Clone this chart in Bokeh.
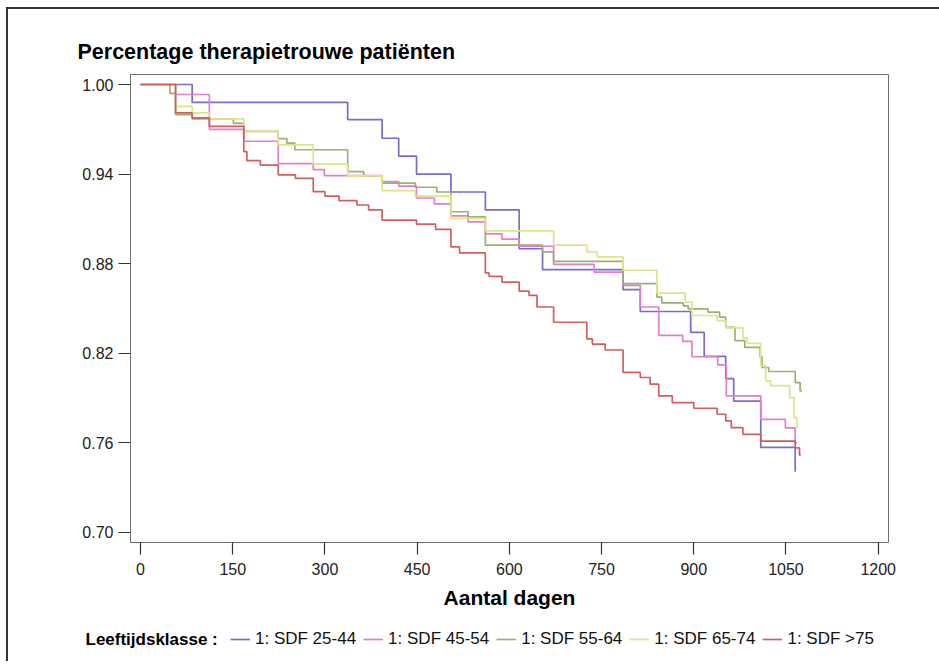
from bokeh.plotting import figure
from bokeh.layouts import column
from bokeh.models import (Range1d, FixedTicker, NumeralTickFormatter, Legend, LegendItem, Label)
from bokeh.embed import file_html
from bokeh.resources import INLINE

# ---------------- data ----------------
title_text = "Percentage therapietrouwe patiënten"
x_label = "Aantal dagen"
legend_title = "Leeftijdsklasse :"
x_ticks = [0, 150, 300, 450, 600, 750, 900, 1050, 1200]
y_ticks = [0.70, 0.76, 0.82, 0.88, 0.94, 1.00]

names = ["1: SDF 25-44", "1: SDF 45-54", "1: SDF 55-64", "1: SDF 65-74", "1: SDF >75"]
colors = ["#7a6cc9", "#e27ed0", "#9fae72", "#e2e288", "#d06060"]

days_25_44 = [0, 84, 337, 393, 420, 449, 505, 561, 616, 654, 785, 813, 895, 917, 952,
              965, 1009, 1065, 1066]
surv_25_44 = [1.0, 0.988, 0.9765, 0.964, 0.952, 0.940, 0.928, 0.916, 0.890, 0.876, 0.8626,
              0.848, 0.834, 0.818, 0.803, 0.788, 0.757, 0.741, 0.741]

days_45_54 = [0, 57, 112, 168, 224, 281, 299, 393, 420, 449, 478, 505, 533, 561, 588, 616,
              672, 738, 785, 813, 843, 882, 897, 939, 953, 1009, 1049, 1065, 1068]
surv_45_54 = [1.0, 0.9933, 0.970, 0.962, 0.947, 0.943, 0.939, 0.935, 0.932, 0.924, 0.920,
              0.912, 0.908, 0.900, 0.8965, 0.8917, 0.8796, 0.8744, 0.8655, 0.851, 0.832,
              0.828, 0.8177, 0.8123, 0.7915, 0.7758, 0.770, 0.760, 0.760]

days_55_64 = [0, 48, 57, 84, 151, 168, 224, 238, 251, 337, 363, 393, 447, 482, 505, 533,
              561, 654, 672, 785, 840, 848, 883, 891, 923, 942, 952, 967, 983, 1008, 1011,
              1022, 1065, 1073, 1076]
surv_55_64 = [1.0, 0.994, 0.9798, 0.977, 0.974, 0.9686, 0.9637, 0.9608, 0.9563, 0.9417,
              0.9388, 0.934, 0.9312, 0.928, 0.9148, 0.9114, 0.8924, 0.8879, 0.8816, 0.8666,
              0.8576, 0.8538, 0.8518, 0.8498, 0.8476, 0.8442, 0.8374, 0.8285, 0.824, 0.8177,
              0.8105, 0.8078, 0.8004, 0.7948, 0.7948]

days_65_74 = [0, 57, 84, 112, 168, 224, 281, 337, 393, 447, 505, 561, 672, 726, 743, 785,
              840, 886, 897, 938, 952, 980, 987, 1009, 1017, 1025, 1056, 1063, 1068, 1070]
surv_65_74 = [1.0, 0.9854, 0.981, 0.977, 0.9686, 0.9596, 0.9467, 0.9388, 0.929, 0.9253,
              0.9103, 0.902, 0.8924, 0.8879, 0.8846, 0.8756, 0.8603, 0.8543, 0.8453, 0.8419,
              0.837, 0.8303, 0.8267, 0.8117, 0.8016, 0.7983, 0.7903, 0.7769, 0.7702, 0.7702]

days_75 = [0, 57, 84, 112, 168, 173, 195, 224, 252, 281, 300, 323, 352, 371, 393, 449, 480,
           505, 519, 561, 567, 588, 616, 632, 645, 672, 726, 735, 756, 785, 813, 829, 843,
           865, 900, 938, 952, 961, 980, 1009, 1065, 1072, 1074]
surv_75 = [1.0, 0.981, 0.9776, 0.972, 0.9551, 0.949, 0.946, 0.9395, 0.9372, 0.9282, 0.9253,
           0.9222, 0.9193, 0.916, 0.9092, 0.9065, 0.903, 0.8913, 0.8872, 0.8738, 0.8715,
           0.8677, 0.8617, 0.8588, 0.851, 0.8408, 0.8296, 0.8262, 0.8222, 0.8072, 0.8038,
           0.7993, 0.7915, 0.787, 0.7832, 0.7792, 0.7747, 0.7702, 0.7657, 0.7612, 0.7567,
           0.7518, 0.7518]

series_days = [days_25_44, days_45_54, days_55_64, days_65_74, days_75]
series_surv = [surv_25_44, surv_45_54, surv_55_64, surv_65_74, surv_75]

# ---------------- layout ----------------
OX, OY = 8, 9                     # canvas origin on the page (inside the outer frame)
W, H1, H2 = 931, 608, 44
FL, FR, FT, FB = 130 - OX, 888 - OX, 74 - OY, 542 - OY
X0, X1 = -16.3, 1216.8
Y0, Y1 = 0.6933, 1.0067

FONT = "Liberation Sans"

p = figure(width=W, height=H1, x_range=Range1d(X0, X1), y_range=Range1d(Y0, Y1),
           output_backend="svg", toolbar_location=None,
           min_border_left=FL, min_border_right=W - FR,
           min_border_top=FT, min_border_bottom=H1 - FB)

p.background_fill_color = "white"
p.border_fill_color = "white"
p.outline_line_color = "#707070"
p.outline_line_width = 1
p.xgrid.visible = False
p.ygrid.visible = False

p.title.text = title_text
p.title.align = "left"
p.title.offset = -53
p.title.standoff = 22
p.title.text_font = FONT
p.title.text_font_size = "21.5px"
p.title.text_font_style = "bold"
p.title.text_color = "black"

for ax in (p.xaxis, p.yaxis):
    ax.axis_line_color = None
    ax.major_tick_in = 0
    ax.major_tick_out = 12
    ax.major_tick_line_color = "#333333"
    ax.major_tick_line_width = 1.2
    ax.minor_tick_line_color = None
    ax.major_label_text_font = FONT
    ax.major_label_text_font_size = "16px"
    ax.major_label_text_color = "#222222"

p.xaxis.ticker = FixedTicker(ticks=x_ticks)
p.yaxis.ticker = FixedTicker(ticks=y_ticks)
p.yaxis.formatter = NumeralTickFormatter(format="0.00")
p.xaxis.major_label_standoff = 8
p.yaxis.major_label_standoff = 5
p.xaxis.axis_label = x_label
p.xaxis.axis_label_text_font = FONT
p.xaxis.axis_label_text_font_size = "21px"
p.xaxis.axis_label_text_font_style = "bold"
p.xaxis.axis_label_text_color = "black"
p.xaxis.axis_label_standoff = 8

for d, s, c in zip(series_days, series_surv, colors):
    p.step(d, s, mode="after", line_color=c, line_width=1.7)

# ---------------- legend strip ----------------
q = figure(width=W, height=H2, x_range=Range1d(0, W), y_range=Range1d(0, H2),
           output_backend="svg", toolbar_location=None,
           min_border_left=0, min_border_right=0, min_border_top=0, min_border_bottom=0)
q.axis.visible = False
q.grid.visible = False
q.outline_line_color = None
q.background_fill_color = "white"
q.border_fill_color = "white"
for fig in (p, q):
    try:
        fig.frame_align = False
    except Exception:
        pass

nan = float("nan")
proxies = [q.line(x=[nan], y=[nan], line_color=c, line_width=1.7) for c in colors]
legend = Legend(items=[LegendItem(label=n, renderers=[r]) for n, r in zip(names, proxies)],
                orientation="horizontal", location=(222, 12),
                glyph_width=20, glyph_height=20, label_height=20, label_standoff=5,
                spacing=7, padding=0, margin=0, border_line_color=None,
                background_fill_alpha=0, label_text_font=FONT,
                label_text_font_size="17px", label_text_color="#111111")
q.add_layout(legend)
q.add_layout(Label(x=77, y=22, text=legend_title, text_font=FONT, text_font_size="17px",
                   text_font_style="bold", text_baseline="middle", text_align="left",
                   text_color="black"))

layout = column(p, q, spacing=0)
layout.styles = {"border-top": "2px solid #333333", "border-left": "2px solid #333333",
                 "margin-left": "6px", "margin-top": "7px"}

open("out.html", "w").write(file_html(layout, INLINE))
